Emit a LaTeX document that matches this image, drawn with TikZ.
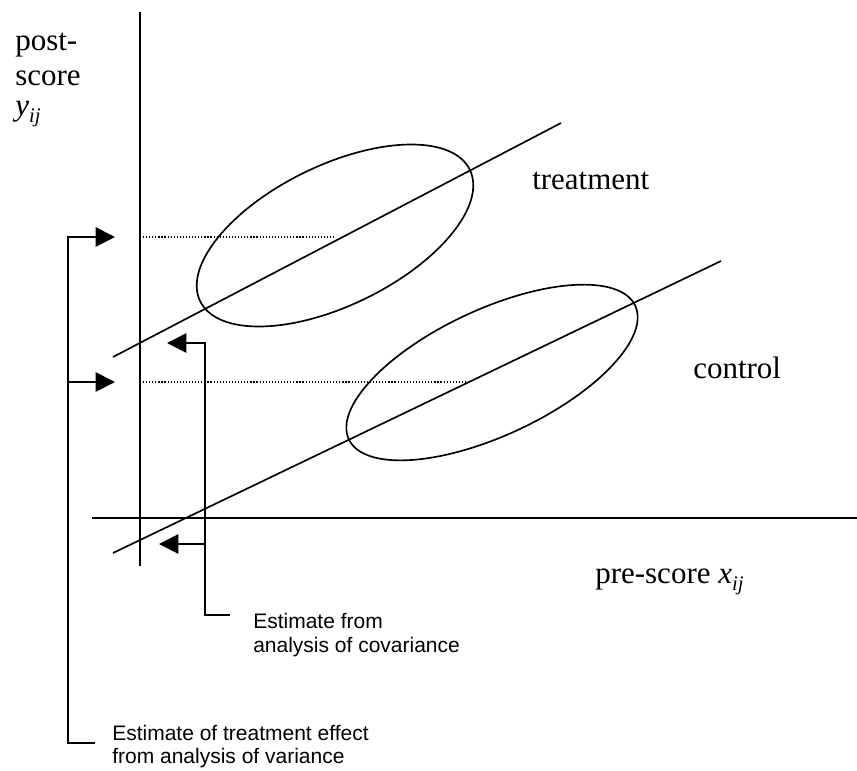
\documentclass[tikz,border=0pt]{standalone}
\usepackage{fontspec}
\setmainfont{Liberation Serif}
\setsansfont{Liberation Sans}
\usetikzlibrary{arrows.meta}
\newcommand{\withij}[1]{\textit{#1}\raisebox{-0.25em}{\fontsize{15.5}{15.5}\selectfont\textit{ij}}}
\tikzset{
  axisline/.style={line width=1.25pt},
  fitline/.style={line width=1.25pt},
  guideline/.style={line width=0.9pt, dash pattern=on 0.9pt off 1.4pt},
  pointer/.style={line width=1.25pt, -{Triangle[length=14.5pt, width=14.5pt]}},
  bigtext/.style={anchor=base west, inner sep=0pt, font=\fontsize{23.25}{26}\selectfont},
  smalltext/.style={anchor=base west, inner sep=0pt, font=\sffamily\fontsize{15.75}{18}\selectfont}
}

\begin{document}
\begin{tikzpicture}[x=0.75pt, y=-0.75pt]
            \useasboundingbox (0,0) rectangle (857,771);
            \coordinate (ytop)     at (140, 12);
            \coordinate (ybot)     at (140,566);
            \coordinate (xleft)    at ( 92,518);
            \coordinate (xright)   at (857,518);
            \coordinate (tstart)   at (113,357);
            \coordinate (tend)     at (561,123);
            \coordinate (cstart)   at (113,553);
            \coordinate (cend)     at (721,261);
            \coordinate (tcentre)  at (335,235.5);
            \coordinate (ccentre)  at (492,372.5);
            \coordinate (tlevel)   at (143,237);
            \coordinate (tmean)    at (335,237);
            \coordinate (clevel)   at (143,382);
            \coordinate (cmean)    at (467,382);
            \coordinate (anovafoot)   at ( 95,743);
            \coordinate (anovacorner) at ( 68,743);
            \coordinate (anovamid)    at ( 68,382);
            \coordinate (anovatip)    at (115,237);
            \coordinate (anovatiplow) at (115,382);
            \coordinate (ancovafoot)  at (230,615);
            \coordinate (ancovacorner)at (205,615);
            \coordinate (ancovamid)   at (205,544);
            \coordinate (ancovatip)   at (167,343);
            \coordinate (ancovatiplow)at (159,544);

            \draw[axisline]  (ytop)  -- (ybot);
            \draw[axisline]  (xleft) -- (xright);
            \draw[fitline]   (tstart) -- (tend);
            \draw[fitline]   (cstart) -- (cend);
            \draw[fitline, rotate around={26:(tcentre)}] (tcentre) ellipse (150 and 70);
            \draw[fitline, rotate around={25:(ccentre)}] (ccentre) ellipse (158 and 63);
            \draw[guideline] (tlevel) -- (tmean);
            \draw[guideline] (clevel) -- (cmean);

            \draw[pointer] (anovafoot)  -- (anovacorner) |- (anovatip);
            \draw[pointer] (anovamid)   -- (anovatiplow);
            \draw[pointer] (ancovafoot) -- (ancovacorner) |- (ancovatip);
            \draw[pointer] (ancovamid)  -- (ancovatiplow);

            \node[bigtext] (postlabel)  at ( 15, 50) {post-};
            \node[bigtext] (scorelabel) at ( 15, 85) {score};
            \node[bigtext] (ylabel)     at ( 15,115) {\withij{y}};
            \node[bigtext] (treatlabel) at (532,189) {treatment};
            \node[bigtext] (ctrllabel)  at (693,378) {control};
            \node[bigtext] (xlabel)     at (595,583) {pre-score \withij{x}};
            \node[smalltext] (ancovanote)  at (253,628) {Estimate from};
            \node[smalltext] (ancovanote2) at (253,652) {analysis of covariance};
            \node[smalltext] (anovanote)   at (112,740) {Estimate of treatment effect};
            \node[smalltext] (anovanote2)  at (112,763) {from analysis of variance};
\end{tikzpicture}
\end{document}
